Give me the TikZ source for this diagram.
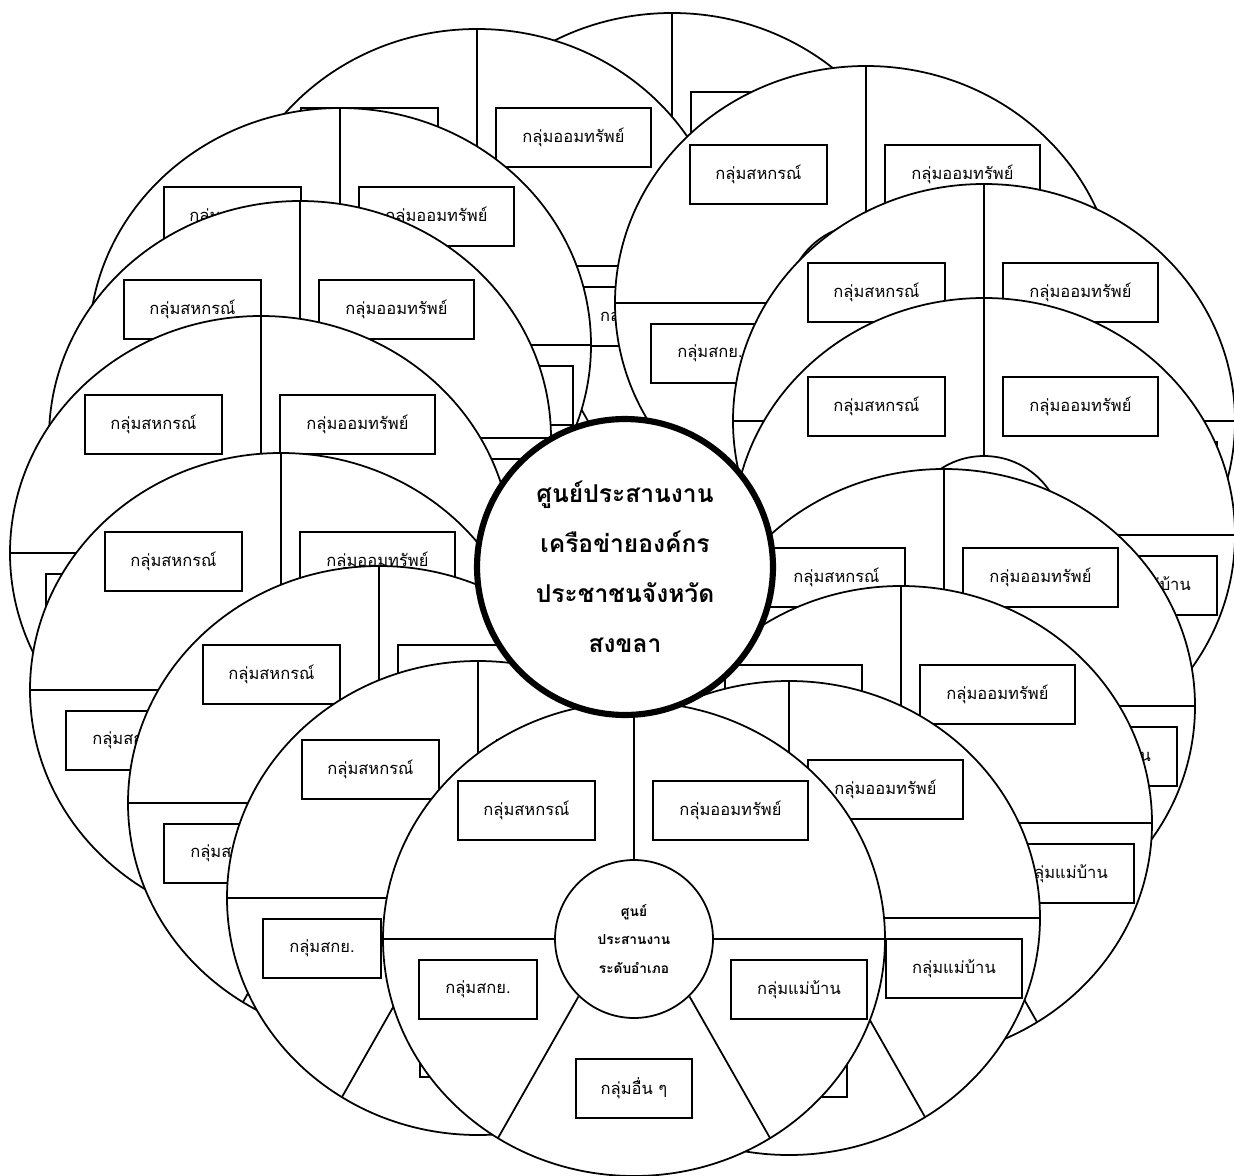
\documentclass[tikz,border=0pt]{standalone}
\usepackage{fontspec}
\newfontfamily\thaifont[Script=Thai]{Loma}

\tikzset{
	rim/.style={line width=1pt},
	grp/.style={draw, fill=white, line width=1.2pt, minimum height=1.18cm, inner sep=0pt,
		font=\thaifont\fontsize{9.4}{12}\selectfont},
	hub/.style={circle, draw, fill=white, line width=1pt, minimum size=3.16cm, inner sep=0pt,
		align=center, font=\thaifont\bfseries\fontsize{7.8}{16}\selectfont},
	prov/.style={circle, draw, fill=white, line width=3.5pt, minimum size=5.92cm, inner sep=0pt,
		align=center, font=\thaifont\bfseries\fontsize{14}{28.5}\selectfont},
}

\newcommand{\amphoe}[4]{%
	\begin{scope}[shift={(#2,#3)}]
		\filldraw [rim, fill=white] (0,0) ellipse [x radius=251, y radius=237];
		\node [hub] (#1-hub) at (0,0) {#4};
		\draw [rim] (0,-237) -- (#1-hub.north);
		\draw [rim] (-251,0) -- (#1-hub.west) (#1-hub.east) -- (251,0);
		\draw [rim] (#1-hub.-134) -- (-136,199) (#1-hub.-46) -- (136,199);
		\node [grp, minimum width=2.74cm] (#1-coop) at (-107.5,-128.5) {กลุ่มสหกรณ์};
		\node [grp, minimum width=3.10cm] (#1-save) at (96.5,-128.5) {กลุ่มออมทรัพย์};
		\node [grp, minimum width=2.36cm] (#1-rubber) at (-156,50.5) {กลุ่มสกย.};
		\node [grp, minimum width=2.72cm] (#1-house) at (165,50.5) {กลุ่มแม่บ้าน};
		\node [grp, minimum width=2.32cm] (#1-other) at (0,149.5) {กลุ่มอื่น ๆ};
	\end{scope}}

\begin{document}
\begin{tikzpicture}[x=0.02cm, y=-0.02cm]
	\useasboundingbox (0,0) rectangle (1234,1176);
	\clip (0,0) rectangle (1234,1176);
	\foreach \n/\x/\y in {a/672/250, b/477/266, c/340/345, d/300/438, e/261/553,
		i/281/690, j/379/803, k/478/898, f/866/303, g/984/421, h/984/535,
		m/944/706, n/901/823, o/789/918}
	{\amphoe{\n}{\x}{\y}{}}
	\amphoe{l}{634}{939}{ศูนย์\\ประสานงาน\\ระดับอำเภอ}
	\node [prov] (prov) at (625,567) {ศูนย์ประสานงาน\\เครือข่ายองค์กร\\ประชาชนจังหวัด\\สงขลา};
\end{tikzpicture}
\end{document}
